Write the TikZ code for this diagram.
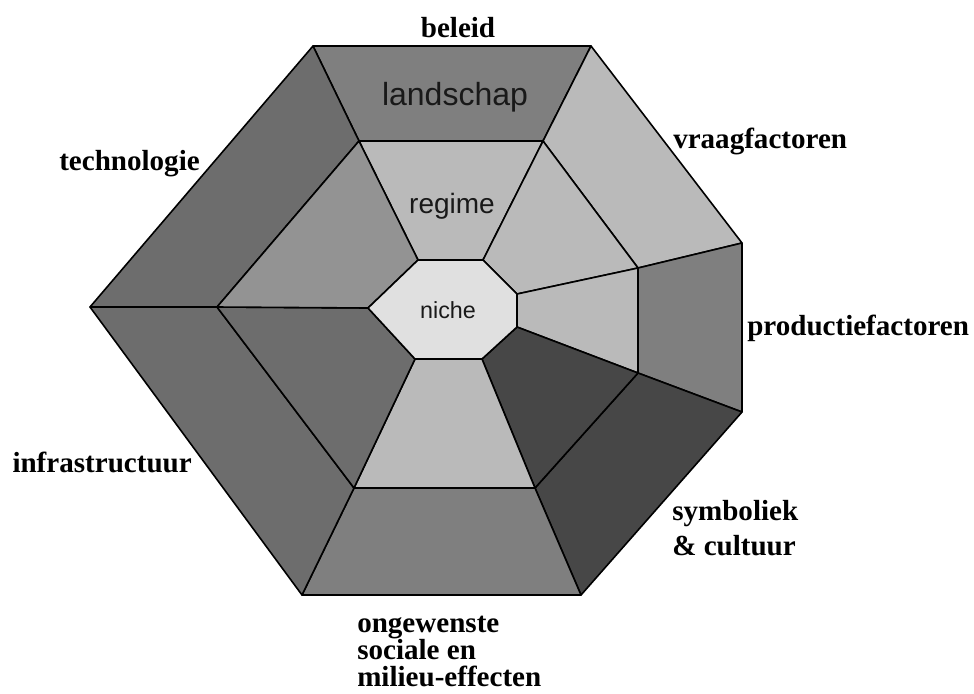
\documentclass[tikz,border=0pt]{standalone}
\usepackage{fontspec}
\setmainfont{Liberation Serif}
\newfontfamily\layersans{Liberation Sans}
\definecolor{gNiche}{HTML}{E0E0E0}
\definecolor{gLight}{HTML}{BABABA}
\definecolor{gMidL}{HTML}{939393}
\definecolor{gMid}{HTML}{7F7F7F}
\definecolor{gDark}{HTML}{6D6D6D}
\definecolor{gDeep}{HTML}{474747}
\tikzset{
  cell/.style={draw=black, line width=1.2pt, line join=round},
  side/.style={font=\bfseries\fontsize{21.8}{26.2}\selectfont, inner sep=0pt, align=left},
  layer/.style={font=\layersans, text=black!90, inner sep=0pt},
}

\begin{document}
\begin{tikzpicture}[x=0.75pt, y=-0.75pt]
    \useasboundingbox (0,0) rectangle (974,693);
    % --- corners: outer, middle and inner ring ---
    \coordinate (o1) at (313,46);  \coordinate (o2) at (591,46);
    \coordinate (o3) at (742,243); \coordinate (o4) at (742,412);
    \coordinate (o5) at (581,595); \coordinate (o6) at (302,595);
    \coordinate (o7) at (90,307);
    \coordinate (m1) at (359,141); \coordinate (m2) at (543,141);
    \coordinate (m3) at (638,268); \coordinate (m4) at (638,373);
    \coordinate (m5) at (535,488); \coordinate (m6) at (354,488);
    \coordinate (m7) at (217,307);
    \coordinate (n1) at (418,260); \coordinate (n2) at (483,260);
    \coordinate (n3) at (517,294); \coordinate (n4) at (517,327);
    \coordinate (n5) at (482,359); \coordinate (n6) at (415,359);
    \coordinate (n7) at (368,308);
    % --- outer ring ---
    \foreach \a/\b/\c in {1/2/gMid, 2/3/gLight, 3/4/gMid, 4/5/gDeep,
                          5/6/gMid, 6/7/gDark, 7/1/gDark}
      \filldraw[cell, fill=\c] (o\a) -- (o\b) -- (m\b) -- (m\a) -- cycle;
    % --- middle ring ---
    \foreach \a/\b/\c in {1/2/gLight, 2/3/gLight, 3/4/gLight, 4/5/gDeep,
                          5/6/gLight, 6/7/gDark, 7/1/gMidL}
      \filldraw[cell, fill=\c] (m\a) -- (m\b) -- (n\b) -- (n\a) -- cycle;
    % --- niche ---
    \filldraw[cell, fill=gNiche] (n1) -- (n2) -- (n3) -- (n4) -- (n5)
      -- (n6) -- (n7) -- cycle;
    % --- layer names ---
    \node[layer, anchor=base, font=\layersans\fontsize{24}{28}\selectfont]
      (landschap) at (455,105) {landschap};
    \node[layer, anchor=base, font=\layersans\fontsize{21}{25}\selectfont]
      (regime) at (452,213) {regime};
    \node[layer, anchor=base, font=\layersans\fontsize{17.5}{21}\selectfont]
      (niche) at (448,318) {niche};
    % --- sides ---
    \node[side, anchor=base] (beleid) at (458,37) {beleid};
    \node[side, anchor=base east] (technologie) at (200,170) {technologie};
    \node[side, anchor=base west] (vraag) at (673,148) {vraagfactoren};
    \node[side, anchor=base west] (productie) at (747,335) {productiefactoren};
    \node[side, anchor=base east] (infra) at (192,472) {infrastructuur};
    % multi-line: base is the last line
    \node[side, anchor=base west] (symboliek) at (672,555)
      {symboliek\\\& cultuur};
    \node[side, anchor=base west, font=\bfseries\fontsize{21.8}{20}\selectfont]
      (effecten) at (357,686) {ongewenste\\sociale en\\milieu-effecten};
\end{tikzpicture}
\end{document}
